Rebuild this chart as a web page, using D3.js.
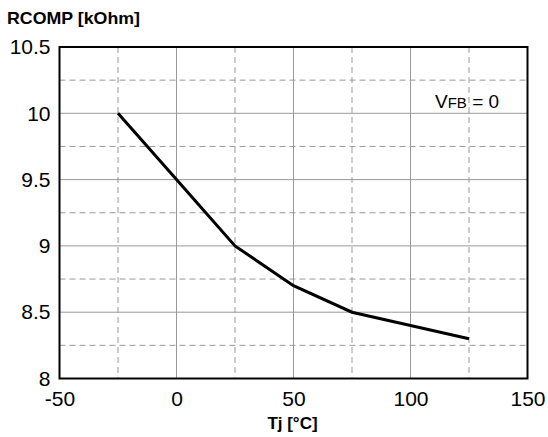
<!DOCTYPE html>
<html><head><meta charset="utf-8">
<script src="https://cdn.jsdelivr.net/npm/d3@7"></script>
<style>body{margin:0;background:#fff}svg{display:block}text{font-family:"Liberation Sans",Arial,sans-serif}</style>
</head><body><svg id="c" width="548" height="437"></svg>
<script>
const tempC = [-25, 0, 25, 50, 75, 100, 125];
const rcompK = [10.0, 9.5, 9.0, 8.7, 8.5, 8.4, 8.3];
const xTicks = [-50, 0, 50, 100, 150];
const yTicks = [8, 8.5, 9, 9.5, 10, 10.5];
const xMinor = [-25, 25, 75, 125];
const yMinor = [8.25, 8.75, 9.25, 9.75, 10.25];

const svg = d3.select("#c");
const L = 59.5, R = 527.5, T = 47, B = 378.5;
const x = d3.scaleLinear().domain([-50, 150]).range([L, R]);
const y = d3.scaleLinear().domain([8, 10.5]).range([B, T]);

const g = svg.append("g");
// minor dashed grid
g.selectAll(".vx").data(xMinor).enter().append("line")
  .attr("x1", d => x(d)).attr("x2", d => x(d)).attr("y1", T).attr("y2", B)
  .attr("stroke", "#999").attr("stroke-width", 1).attr("stroke-dasharray", "6,4");
g.selectAll(".hy").data(yMinor).enter().append("line")
  .attr("y1", d => y(d)).attr("y2", d => y(d)).attr("x1", L).attr("x2", R)
  .attr("stroke", "#999").attr("stroke-width", 1).attr("stroke-dasharray", "6,4");
// major solid grid
g.selectAll(".mx").data(xTicks.slice(1, -1)).enter().append("line")
  .attr("x1", d => x(d)).attr("x2", d => x(d)).attr("y1", T).attr("y2", B)
  .attr("stroke", "#999").attr("stroke-width", 1);
g.selectAll(".my").data(yTicks.slice(1, -1)).enter().append("line")
  .attr("y1", d => y(d)).attr("y2", d => y(d)).attr("x1", L).attr("x2", R)
  .attr("stroke", "#999").attr("stroke-width", 1);

// frame
svg.append("rect").attr("x", L).attr("y", T).attr("width", R - L).attr("height", B - T)
  .attr("fill", "none").attr("stroke", "#000").attr("stroke-width", 2);

const fmt = d => String(d);
const xAxis = svg.append("g").attr("transform", `translate(0,${B})`)
  .call(d3.axisBottom(x).tickValues(xTicks).tickSize(0).tickPadding(13).tickFormat(fmt));
xAxis.select(".domain").remove();
xAxis.selectAll("text").attr("font-size", 21).attr("font-family", "Liberation Sans, Arial, sans-serif").attr("fill", "#000");

const yAxis = svg.append("g").attr("transform", `translate(${L},0)`)
  .call(d3.axisLeft(y).tickValues(yTicks).tickSize(0).tickPadding(9).tickFormat(fmt));
yAxis.select(".domain").remove();
yAxis.selectAll("text").attr("font-size", 21).attr("font-family", "Liberation Sans, Arial, sans-serif").attr("fill", "#000");

// line
const line = d3.line().x((d, i) => x(tempC[i])).y(d => y(d));
svg.append("path").datum(rcompK).attr("d", line)
  .attr("fill", "none").attr("stroke", "#000").attr("stroke-width", 3).attr("stroke-linejoin", "miter");

// titles
svg.append("text").attr("x", 7).attr("y", 24).attr("font-size", 16.5).attr("font-weight", "bold")
  .attr("textLength", 133).attr("lengthAdjust", "spacingAndGlyphs").text("RCOMP [kOhm]");
svg.append("text").attr("x", (L + R) / 2 - 1).attr("y", 429).attr("text-anchor", "middle")
  .attr("font-size", 17).attr("font-weight", "bold").text("Tj [°C]");

const ann = svg.append("text").attr("x", 435).attr("y", 108).attr("font-size", 19);
ann.append("tspan").text("V");
ann.append("tspan").attr("font-size", 15).text("FB");
ann.append("tspan").text(" = 0");
</script></body></html>
